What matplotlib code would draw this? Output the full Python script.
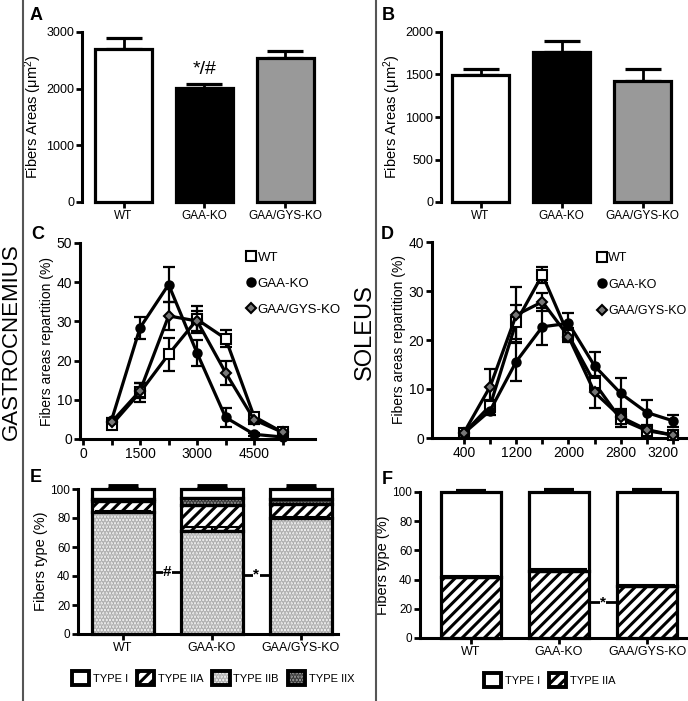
import matplotlib
matplotlib.use("Agg")
import matplotlib.pyplot as plt
import matplotlib.transforms as mtransforms
from matplotlib.patches import Patch
from matplotlib.lines import Line2D
import numpy as np

plt.rcParams['font.family'] = ['Liberation Sans', 'DejaVu Sans']
plt.rcParams['hatch.linewidth'] = 2.2

# ---- data -------------------------------------------------------------
GROUPS = ["WT", "GAA-KO", "GAA/GYS-KO"]

# A / B : mean fiber area (um^2) + SEM
A_MEAN = [2700, 2017, 2547]
A_ERR = [190, 60, 118]
B_MEAN = [1490, 1769, 1424]
B_ERR = [72, 125, 138]

# C : gastrocnemius area distribution (%)
C_BINS = [750, 1500, 2250, 3000, 3750, 4500, 5250]
C_WT = [3.6, 11.9, 21.6, 30.5, 25.6, 5.7, 1.7]
C_WT_ERR = [0.8, 2.5, 4.2, 3.4, 2.2, 1.0, 0.5]
C_KO = [4.8, 28.4, 39.4, 21.9, 5.5, 1.2, 0.5]
C_KO_ERR = [0.6, 2.8, 4.4, 3.4, 2.4, 0.4, 0.3]
C_DKO = [4.3, 12.3, 31.4, 30.1, 16.9, 4.9, 1.7]
C_DKO_ERR = [0.6, 1.9, 3.6, 2.5, 3.0, 1.0, 0.5]
C_TICKS = [0, 750, 1500, 2250, 3000, 3750, 4500, 5250]
C_TICKLABELS = ["0", "", "1500", "", "3000", "", "4500", ""]

# D : soleus area distribution (%)
D_BINS = [400, 800, 1200, 1600, 2000, 2400, 2800, 3200, 3600]
D_WT = [1.0, 6.6, 23.7, 33.3, 21.0, 11.2, 3.8, 1.5, 0.6]
D_WT_ERR = [0.5, 1.2, 3.5, 1.6, 1.5, 1.5, 1.6, 1.0, 0.5]
D_KO = [1.0, 5.6, 15.6, 22.7, 23.4, 14.7, 9.1, 5.2, 3.5]
D_KO_ERR = [0.4, 1.0, 3.9, 3.8, 2.2, 2.9, 3.2, 2.5, 1.2]
D_DKO = [1.1, 10.5, 25.1, 27.8, 20.7, 9.3, 4.3, 1.7, 0.6]
D_DKO_ERR = [0.5, 3.5, 5.8, 1.8, 1.0, 3.2, 1.5, 0.8, 0.4]
D_TICKLABELS = ["400", "", "1200", "", "2000", "", "2800", "", "3200"]

# E : gastrocnemius fiber types (%), stacked bottom-up
E_IIB = [84, 71, 80]
E_IIB_ERR = [0.8, 2.5, 0.8]
E_IIA = [8, 18, 10]
E_IIX = [1, 5, 3]
E_I = [7, 6, 7]
E_I_ERR = [2.3, 1.8, 1.8]

# F : soleus fiber types (%)
F_IIA = [42, 46, 35.5]
F_IIA_ERR = [0.8, 1.0, 0.6]
F_I = [58, 54, 64.5]
F_I_ERR = [0.4, 1.4, 1.4]

# ---- layout helpers ---------------------------------------------------
W, H = 688, 701
fig = plt.figure(figsize=(W / 100, H / 100), dpi=100)


def add_ax(l, t, r, b):
    return fig.add_axes([l / W, 1 - b / H, (r - l) / W, (b - t) / H])


def style(ax, labelsize, bottom=True):
    for s in ('top', 'right'):
        ax.spines[s].set_visible(False)
    ax.spines['left'].set_linewidth(2.2)
    ax.spines['bottom'].set_linewidth(2.2)
    ax.spines['bottom'].set_visible(bottom)
    ax.tick_params(width=2, length=4, labelsize=labelsize, pad=1.5)


LW = 2.3


def bar_panel(ax, means, errs, colors, ylim, yticks, ylabel, width):
    x = np.arange(len(means))
    ax.errorbar(x, means, yerr=[np.zeros(len(errs)), errs], fmt='none',
                ecolor='black', elinewidth=2, capsize=13, capthick=2.3,
                zorder=1)
    ax.bar(x, means, width=width, color=colors, edgecolor='black',
           linewidth=LW, zorder=2, clip_on=False)
    ax.set_ylim(*ylim)
    ax.set_yticks(yticks)
    ax.set_xticks(x)
    ax.set_xticklabels(GROUPS, fontsize=8.5)
    ax.set_ylabel(ylabel, fontsize=10.5, labelpad=2)


# ---- A ----------------------------------------------------------------
axA = add_ax(82, 32, 330, 202)
style(axA, 9, bottom=False)
bar_panel(axA, A_MEAN, A_ERR, ['white', 'black', '#999999'], (0, 3000),
          [0, 1000, 2000, 3000], r'Fibers Areas ($\mathregular{\mu m^2}$)',
          0.706)
axA.set_xlim(-0.514, 2.557)
axA.text(1, A_MEAN[1] + A_ERR[1] + 120, "*/#", ha='center', va='bottom',
         fontsize=14)

# ---- B ----------------------------------------------------------------
axB = add_ax(441, 32, 688, 202)
style(axB, 9, bottom=False)
bar_panel(axB, B_MEAN, B_ERR, ['white', 'black', '#999999'], (0, 2000),
          [0, 500, 1000, 1500, 2000], r'Fibers Areas ($\mathregular{\mu m^2}$)',
          0.706)
axB.set_xlim(-0.488, 2.56)


# ---- C / D ------------------------------------------------------------
def line_panel(ax, bins, series, ylim, ylabel):
    mk = [('s', 'white', 6.5), ('o', 'black', 6), ('D', '#777777', 5.5)]
    handles = []
    for (vals, errs), (m, fc, ms), name in zip(series, mk, GROUPS):
        ax.errorbar(bins, vals, yerr=errs, fmt='none', ecolor='black',
                    elinewidth=1.6, capsize=4, capthick=1.6, clip_on=False,
                    zorder=2)
        ax.plot(bins, vals, color='black', lw=2.3, marker=m, ms=ms,
                mfc=fc, mec='black', mew=1.5, clip_on=False, zorder=3)
        handles.append(Line2D([], [], ls='none', marker=m, ms=ms, mfc=fc,
                              mec='black', mew=1.5))
    ax.set_ylim(*ylim)
    ax.set_ylabel(ylabel, fontsize=10, labelpad=2)
    return handles


axC = add_ax(80, 243, 315, 439)
style(axC, 10)
hC = line_panel(axC, C_BINS, [(C_WT, C_WT_ERR), (C_KO, C_KO_ERR),
                              (C_DKO, C_DKO_ERR)], (0, 50),
                'Fibers areas repartition (%)')
axC.set_xlim(-80, 6100)
axC.set_xticks(C_TICKS)
axC.set_xticklabels(C_TICKLABELS)
axC.set_yticks([0, 10, 20, 30, 40, 50])
axC.legend(hC, GROUPS, loc='upper left', bbox_to_anchor=(240 / W, 1 - 245 / H),
           bbox_transform=fig.transFigure, frameon=False, fontsize=9.5,
           handlelength=0.6, handletextpad=0.25, labelspacing=1.05,
           borderpad=0)

axD = add_ax(432, 242, 688, 438)
style(axD, 10)
hD = line_panel(axD, D_BINS, [(D_WT, D_WT_ERR), (D_KO, D_KO_ERR),
                              (D_DKO, D_DKO_ERR)], (0, 40),
                'Fibers areas repartition (%)')
axD.set_xlim(-90, 3830)
axD.set_xticks(D_BINS)
axD.set_xticklabels(D_TICKLABELS)
axD.set_yticks([0, 10, 20, 30, 40])
last = axD.get_xticklabels()[-1]
last.set_transform(last.get_transform() +
                   mtransforms.ScaledTranslation(-0.1, 0, fig.dpi_scale_trans))
axD.legend(hD, GROUPS, loc='upper left', bbox_to_anchor=(592 / W, 1 - 246 / H),
           bbox_transform=fig.transFigure, frameon=False, fontsize=9,
           handlelength=0.6, handletextpad=0.2, labelspacing=1.15,
           borderpad=0)

# ---- E / F ------------------------------------------------------------
STYLES = {
    'TYPE I': dict(fc='white', hatch=None, hc='white'),
    'TYPE IIA': dict(fc='white', hatch='///', hc='black'),
    'TYPE IIB': dict(fc='#f6f6f6', hatch='.....', hc='#ababab'),
    'TYPE IIX': dict(fc='#a0a0a0', hatch='.....', hc='#333333'),
}


def hatch_patch(name, **kw):
    st = STYLES[name]
    fill = Patch(facecolor=st['fc'], edgecolor=st['hc'], hatch=st['hatch'],
                 lw=0, **kw)
    outline = Patch(facecolor='none', edgecolor='black', lw=LW + 0.5, **kw)
    return fill, outline


def stacked(ax, layers, width):
    x = np.arange(len(GROUPS))
    bottom = np.zeros(len(GROUPS))
    for name, vals in layers:
        st = STYLES[name]
        ax.bar(x, vals, width, bottom=bottom, color=st['fc'],
               edgecolor=st['hc'], hatch=st['hatch'], lw=0, zorder=2)
        ax.bar(x, vals, width, bottom=bottom, color='none',
               edgecolor='black', lw=LW, zorder=3, clip_on=False)
        bottom = bottom + np.array(vals)
    return x, bottom


def sig(ax, x0, x1, y, s):
    ax.plot([x0, x1], [y, y], color='black', lw=2, zorder=1)
    ax.text((x0 + x1) / 2, y, s, ha='center', va='center', fontsize=11,
            fontweight='bold', zorder=4,
            bbox=dict(fc='white', ec='none', pad=0.3))


legend_font = dict(family=['Liberation Sans Narrow', 'Liberation Sans'],
                   size=8)

axE = add_ax(78, 489, 338, 634)
style(axE, 8.5)
wE = 0.697
xE, topE = stacked(axE, [('TYPE IIB', E_IIB), ('TYPE IIA', E_IIA),
                         ('TYPE IIX', E_IIX), ('TYPE I', E_I)], wE)
axE.errorbar(xE, E_IIB, yerr=[np.zeros(3), E_IIB_ERR], fmt='none',
             ecolor='black', elinewidth=1.5, capsize=20, capthick=1.5,
             zorder=3)
axE.errorbar(xE, topE, yerr=[np.zeros(3), E_I_ERR], fmt='none',
             ecolor='black', elinewidth=3, capsize=11, capthick=3.5,
             zorder=1, clip_on=False)
axE.set_xlim(-0.506, 2.42)
axE.set_ylim(0, 100)
axE.set_yticks([0, 20, 40, 60, 80, 100])
axE.set_xticks(xE)
axE.set_xticklabels(GROUPS, fontsize=9)
axE.set_ylabel('Fibers type (%)', fontsize=10.5, labelpad=2)
sig(axE, wE / 2, 1 - wE / 2, 43, '#')
sig(axE, 1 + wE / 2, 2 - wE / 2, 41, '*')

legE = [hatch_patch(n) for n in STYLES]
axE.legend(legE, list(STYLES), loc='center left',
           bbox_to_anchor=(66 / W, 1 - 678 / H),
           bbox_transform=fig.transFigure, ncol=4, frameon=False,
           prop=legend_font, handlelength=1.6, handleheight=1.6,
           handletextpad=0.3, columnspacing=0.8, borderpad=0)

axF = add_ax(420, 492, 686, 638)
style(axF, 8.5)
wF = 0.68
xF, topF = stacked(axF, [('TYPE IIA', F_IIA), ('TYPE I', F_I)], wF)
axF.errorbar(xF, F_IIA, yerr=F_IIA_ERR, fmt='none', ecolor='black',
             elinewidth=1.5, capsize=20, capthick=1.5, zorder=3)
axF.errorbar(xF, topF, yerr=[np.zeros(3), F_I_ERR], fmt='none',
             ecolor='black', elinewidth=3, capsize=11, capthick=3,
             zorder=1, clip_on=False)
axF.set_xlim(-0.58, 2.443)
axF.set_ylim(0, 100)
axF.set_yticks([0, 20, 40, 60, 80, 100])
axF.set_xticks(xF)
axF.set_xticklabels(GROUPS, fontsize=9)
axF.set_ylabel('Fibers type (%)', fontsize=10.5, labelpad=2)
sig(axF, 1 + wF / 2, 2 - wF / 2, 24.6, '*')

legF = [hatch_patch(n) for n in ['TYPE I', 'TYPE IIA']]
axF.legend(legF, ['TYPE I', 'TYPE IIA'], loc='center left',
           bbox_to_anchor=(478 / W, 1 - 680 / H),
           bbox_transform=fig.transFigure, ncol=2, frameon=False,
           prop=legend_font, handlelength=1.6, handleheight=1.6,
           handletextpad=0.3, columnspacing=0.8, borderpad=0)

# ---- figure decorations ----------------------------------------------
for xs in (23, 376):
    fig.add_artist(Line2D([xs / W, xs / W], [0, 1], color='#555555', lw=1.5))

for lab, x, y in [('A', 30, 15), ('B', 382, 15), ('C', 31, 234),
                  ('D', 381, 234), ('E', 30, 478), ('F', 382, 479)]:
    fig.text(x / W, 1 - y / H, lab, fontsize=13, fontweight='bold',
             ha='left', va='center')

fig.text(11 / W, 1 - 342 / H, 'GASTROCNEMIUS', rotation=90, fontsize=16,
         ha='center', va='center')
fig.text(365 / W, 1 - 332 / H, 'SOLEUS', rotation=90, fontsize=17,
         ha='center', va='center')

fig.savefig('out.png', dpi=100)
